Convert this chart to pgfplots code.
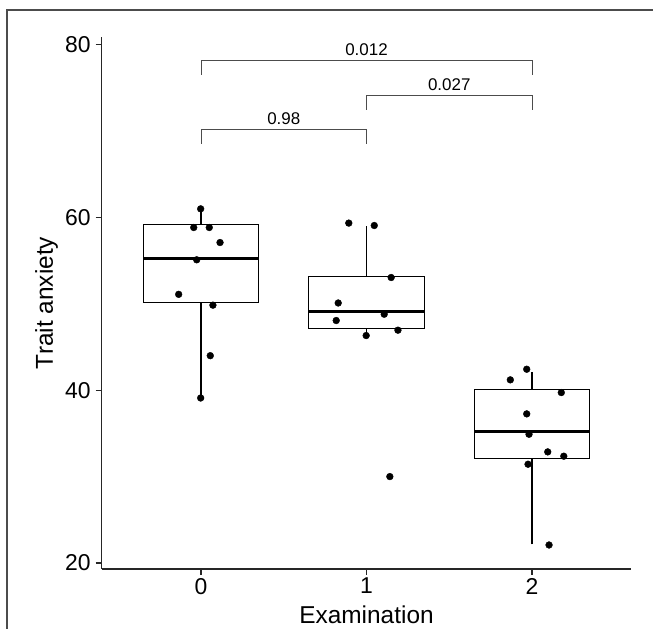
\documentclass[border=0pt]{standalone}
\usepackage{fontspec}
\setmainfont{Liberation Sans}
\usepackage{pgfplots}
\pgfplotsset{compat=1.18}
\begin{document}
\begin{tikzpicture}[x=1bp,y=1bp]
\useasboundingbox (0,0) rectangle (653,629);
\draw[line width=1.2bp, black!70] (7,0) -- (7,619) -- (653,619);
\begin{axis}[
  at={(101.7bp,60bp)}, anchor=south west,
  scale only axis, width=529.6bp, height=532bp,
  xmin=-0.6, xmax=2.6, ymin=19.3, ymax=80.9,
  axis x line*=bottom, axis y line*=left,
  axis line style={line width=1.3bp, black!85, -},
  xtick={0,1,2}, ytick={20,40,60,80},
  minor tick num=0,
  tick style={line width=1.1bp, black!85},
  major tick length=6bp,
  tick align=outside,
  tick label style={font=\fontsize{23}{23}\selectfont},
  xticklabel style={inner sep=0pt, yshift=-3bp},
  yticklabel style={inner sep=0pt, xshift=-5bp},
  /pgf/number format/assume math mode=true,
  xlabel={Examination}, ylabel={Trait anxiety},
  label style={font=\fontsize{24.5}{24.5}\selectfont},
  xlabel style={at={(axis description cs:0.5,-0.0865)}, anchor=center},
  ylabel style={at={(axis description cs:-0.104,0.5)}, anchor=center},
  clip=false,
]
% group 0
\addplot[black, line width=1.1bp] coordinates {(0,39.1) (0,50.15)};
\addplot[black, line width=1.1bp] coordinates {(0,59.2) (0,61.0)};
\addplot[draw=black, fill=white, line width=1.1bp] coordinates {(-0.35,50.15) (0.35,50.15) (0.35,59.2) (-0.35,59.2)} -- cycle;
\addplot[black, line width=3bp] coordinates {(-0.35,55.2) (0.35,55.2)};
% group 1
\addplot[black, line width=1.1bp] coordinates {(1,46.5) (1,47.14)};
\addplot[black, line width=1.1bp] coordinates {(1,53.13) (1,59.07)};
\addplot[draw=black, fill=white, line width=1.1bp] coordinates {(0.65,47.14) (1.35,47.14) (1.35,53.13) (0.65,53.13)} -- cycle;
\addplot[black, line width=3bp] coordinates {(0.65,49.15) (1.35,49.15)};
% group 2
\addplot[black, line width=1.1bp] coordinates {(2,22.16) (2,32.13)};
\addplot[black, line width=1.1bp] coordinates {(2,40.12) (2,42.09)};
\addplot[draw=black, fill=white, line width=1.1bp] coordinates {(1.65,32.13) (2.35,32.13) (2.35,40.12) (1.65,40.12)} -- cycle;
\addplot[black, line width=3bp] coordinates {(1.65,35.17) (2.35,35.17)};
% jittered points
\addplot[only marks, mark=*, mark size=3.4bp, black] coordinates {
  (-0.002,61.0) (-0.044,58.84) (0.05,58.84) (0.115,57.1) (-0.026,55.1)
  (-0.135,51.1) (0.072,49.85) (0.056,44.0) (-0.002,39.1)
  (0.893,59.35) (1.047,59.07) (1.149,53.05) (0.829,50.1) (1.107,48.8)
  (0.817,48.07) (1.19,46.95) (0.998,46.33) (1.141,30.0)
  (1.968,42.43) (1.869,41.2) (2.177,39.73) (1.968,37.26) (1.982,34.9)
  (2.095,32.86) (2.192,32.36) (1.976,31.43) (2.103,22.08)
};
% brackets
\addplot[black!70, line width=1bp] coordinates {(0,68.53) (0,70.15) (1,70.15) (1,68.53)};
\addplot[black!70, line width=1bp] coordinates {(1,72.47) (1,74.1) (2,74.1) (2,72.47)};
\addplot[black!70, line width=1bp] coordinates {(0,76.5) (0,78.15) (2,78.15) (2,76.5)};
\node[font=\fontsize{17}{17}\selectfont, anchor=base] at (axis cs:0.5,70.75) {0.98};
\node[font=\fontsize{17}{17}\selectfont, anchor=base] at (axis cs:1.5,74.7) {0.027};
\node[font=\fontsize{17}{17}\selectfont, anchor=base] at (axis cs:1,78.75) {0.012};
\end{axis}
\end{tikzpicture}
\end{document}
